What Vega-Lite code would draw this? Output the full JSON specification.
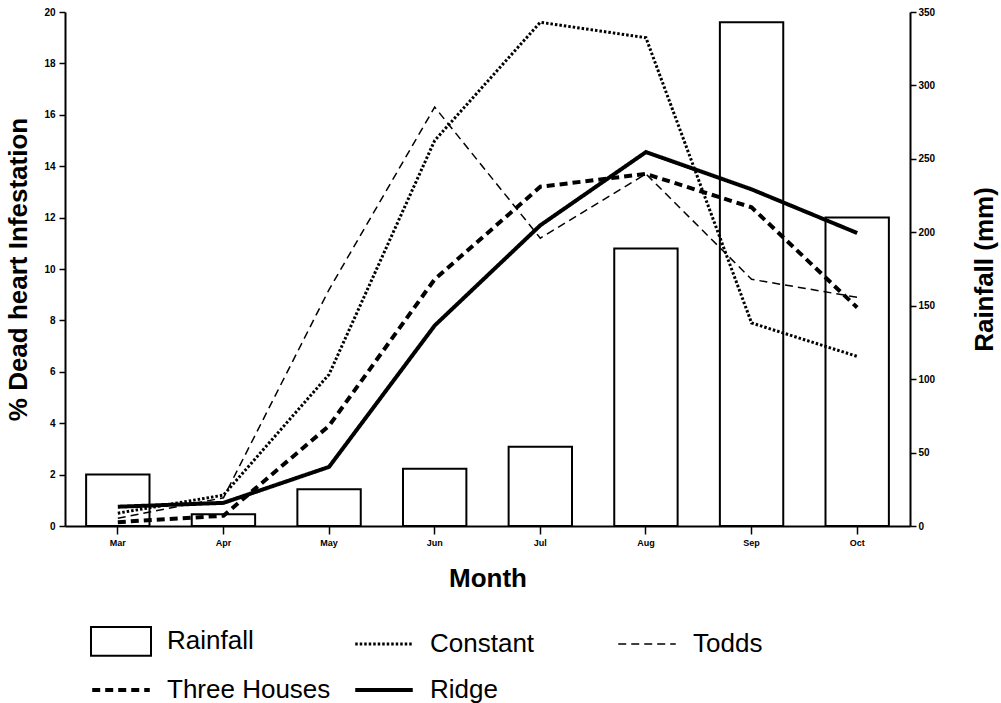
{
  "$schema": "https://vega.github.io/schema/vega-lite/v6.json",
  "width": 845,
  "height": 514,
  "autosize": {"type": "none"},
  "padding": {"left": 65, "top": 12, "right": 91, "bottom": 177},
  "background": "white",
  "config": {
    "view": {"stroke": null},
    "font": "Liberation Sans",
    "axis": {
      "grid": false,
      "domainColor": "black",
      "domainWidth": 2,
      "tickColor": "black",
      "tickWidth": 1.5,
      "labelColor": "black",
      "titleColor": "black",
      "labelFont": "Liberation Sans",
      "labelFontWeight": "bold",
      "titleFont": "Liberation Sans",
      "titleFontWeight": "bold",
      "titleFontSize": 26
    },
    "legend": {
      "title": null,
      "orient": "none",
      "legendX": 43,
      "legendY": 616,
      "direction": "horizontal",
      "columns": 3,
      "gridAlign": "all",
      "padding": 0,
      "rowPadding": 17,
      "columnPadding": 16,
      "symbolSize": 2300,
      "symbolStrokeColor": "black",
      "symbolStrokeWidth": 2,
      "labelFont": "Liberation Sans",
      "labelFontSize": 26,
      "labelColor": "black",
      "labelOffset": 33,
      "labelLimit": 400
    }
  },
  "datasets": {
    "rain": [
      {"month": "Mar", "rainfall": 35},
      {"month": "Apr", "rainfall": 8},
      {"month": "May", "rainfall": 25},
      {"month": "Jun", "rainfall": 39},
      {"month": "Jul", "rainfall": 54},
      {"month": "Aug", "rainfall": 189},
      {"month": "Sep", "rainfall": 343},
      {"month": "Oct", "rainfall": 210}
    ],
    "infest": [
      {"month": "Mar", "series": "Constant", "pct": 0.5},
      {"month": "Apr", "series": "Constant", "pct": 1.2},
      {"month": "May", "series": "Constant", "pct": 5.9},
      {"month": "Jun", "series": "Constant", "pct": 15.0},
      {"month": "Jul", "series": "Constant", "pct": 19.6},
      {"month": "Aug", "series": "Constant", "pct": 19.0},
      {"month": "Sep", "series": "Constant", "pct": 7.9},
      {"month": "Oct", "series": "Constant", "pct": 6.6},
      {"month": "Mar", "series": "Todds", "pct": 0.3},
      {"month": "Apr", "series": "Todds", "pct": 1.1},
      {"month": "May", "series": "Todds", "pct": 9.2},
      {"month": "Jun", "series": "Todds", "pct": 16.3},
      {"month": "Jul", "series": "Todds", "pct": 11.2},
      {"month": "Aug", "series": "Todds", "pct": 13.7},
      {"month": "Sep", "series": "Todds", "pct": 9.6},
      {"month": "Oct", "series": "Todds", "pct": 8.9},
      {"month": "Mar", "series": "Three Houses", "pct": 0.15},
      {"month": "Apr", "series": "Three Houses", "pct": 0.4},
      {"month": "May", "series": "Three Houses", "pct": 3.9},
      {"month": "Jun", "series": "Three Houses", "pct": 9.6},
      {"month": "Jul", "series": "Three Houses", "pct": 13.2},
      {"month": "Aug", "series": "Three Houses", "pct": 13.7},
      {"month": "Sep", "series": "Three Houses", "pct": 12.4},
      {"month": "Oct", "series": "Three Houses", "pct": 8.5},
      {"month": "Mar", "series": "Ridge", "pct": 0.75},
      {"month": "Apr", "series": "Ridge", "pct": 0.9},
      {"month": "May", "series": "Ridge", "pct": 2.3},
      {"month": "Jun", "series": "Ridge", "pct": 7.8},
      {"month": "Jul", "series": "Ridge", "pct": 11.7},
      {"month": "Aug", "series": "Ridge", "pct": 14.55},
      {"month": "Sep", "series": "Ridge", "pct": 13.1},
      {"month": "Oct", "series": "Ridge", "pct": 11.4}
    ]
  },
  "encoding": {
    "x": {
      "field": "month",
      "type": "nominal",
      "sort": ["Mar", "Apr", "May", "Jun", "Jul", "Aug", "Sep", "Oct"],
      "scale": {"paddingInner": 0.4, "paddingOuter": 0.2},
      "axis": {
        "title": "Month",
        "labelAngle": 0,
        "labelFontSize": 9,
        "tickSize": 8,
        "labelPadding": 4,
        "titlePadding": 18
      }
    }
  },
  "layer": [
    {
      "data": {"name": "rain"},
      "mark": {"type": "bar", "fill": "white", "stroke": "black", "strokeWidth": 2},
      "encoding": {
        "y": {
          "field": "rainfall",
          "type": "quantitative",
          "scale": {"domain": [0, 350], "nice": false},
          "axis": {
            "orient": "right",
            "title": "Rainfall (mm)",
            "titleAngle": 270,
            "values": [0, 50, 100, 150, 200, 250, 300, 350],
            "labelFontSize": 10,
            "tickSize": 6,
            "labelPadding": 2,
            "titlePadding": 63
          }
        }
      }
    },
    {
      "data": {"name": "infest"},
      "encoding": {
        "y": {
          "field": "pct",
          "type": "quantitative",
          "scale": {"domain": [0, 20], "nice": false},
          "axis": {
            "orient": "left",
            "title": "% Dead heart Infestation",
            "values": [0, 2, 4, 6, 8, 10, 12, 14, 16, 18, 20],
            "labelFontSize": 10,
            "tickSize": 6,
            "labelPadding": 4,
            "titlePadding": 12
          }
        },
        "strokeDash": {
          "field": "series",
          "type": "nominal",
          "scale": {
            "domain": ["Rainfall", "Constant", "Todds", "Three Houses", "Ridge"],
            "range": [[1, 0], [2.5, 2], [8, 5], [8, 5], [1, 0]]
          },
          "legend": {
            "encode": {
              "symbols": {
                "update": {
                  "shape": {"signal": "datum.value === 'Rainfall' ? 'M-1.25,-0.6H1.25V0.6H-1.25Z' : 'M-1.2,0H1.2'"},
                  "strokeWidth": {"signal": "datum.value === 'Rainfall' ? 2 : datum.value === 'Constant' ? 3 : datum.value === 'Todds' ? 1.5 : 4"},
                  "stroke": {"value": "black"},
                  "fill": {"value": "transparent"}
                }
              }
            }
          }
        }
      },
      "layer": [
        {
          "transform": [{"filter": "datum.series === 'Constant'"}],
          "mark": {"type": "line", "color": "black", "strokeWidth": 3}
        },
        {
          "transform": [{"filter": "datum.series === 'Todds'"}],
          "mark": {"type": "line", "color": "black", "strokeWidth": 1.5}
        },
        {
          "transform": [{"filter": "datum.series === 'Three Houses'"}],
          "mark": {"type": "line", "color": "black", "strokeWidth": 4}
        },
        {
          "transform": [{"filter": "datum.series === 'Ridge'"}],
          "mark": {"type": "line", "color": "black", "strokeWidth": 4}
        }
      ]
    }
  ],
  "resolve": {"scale": {"y": "independent"}}
}
